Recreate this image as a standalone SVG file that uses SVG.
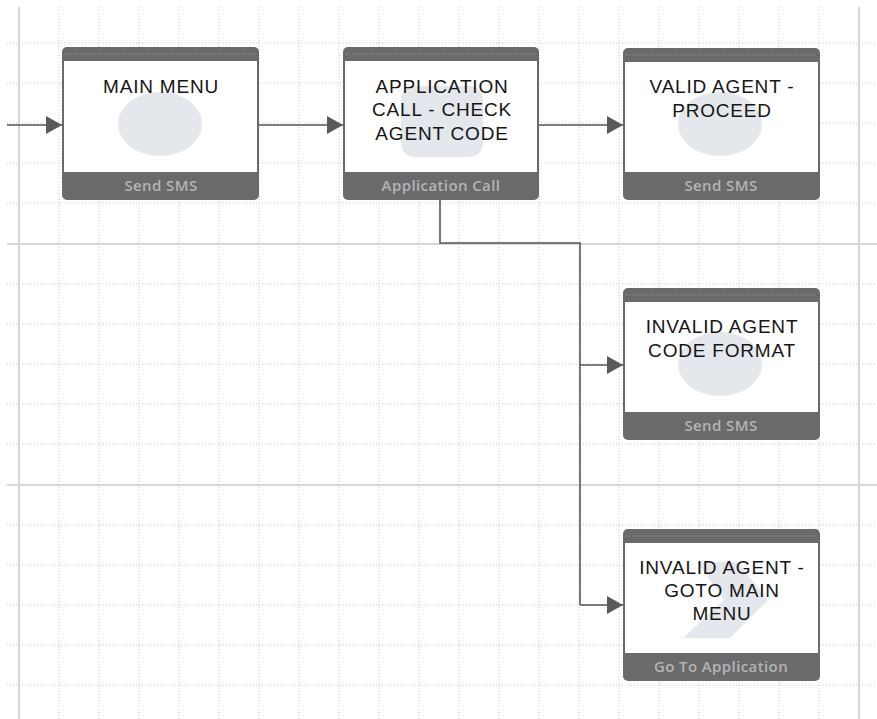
<svg xmlns="http://www.w3.org/2000/svg" width="877" height="719" viewBox="0 0 877 719">
  <style>
    .minor { stroke: #c8c8c8; stroke-width: 1; stroke-dasharray: 1 2; fill: none; }
    .major { stroke: #d6d6d6; stroke-width: 2; fill: none; }
    .frame { fill: #6a6a6a; }
    .body { fill: #ffffff; }
    .hdr-dots { stroke: #9a9a9a; stroke-width: 1; stroke-dasharray: 1 2; }
    .icon { fill: #e4e7ec; }
    .title { font-family: "Liberation Sans", Arial, sans-serif; font-size: 19px; letter-spacing: 0.8px; fill: #151515; text-anchor: middle; }
    .kind { font-family: "Open Sans", "DejaVu Sans", sans-serif; font-size: 15px; font-weight: 600; letter-spacing: 0.4px; fill: #b4b4b4; text-anchor: middle; }
    .wire { stroke: #555555; stroke-width: 1.6; fill: none; }
  </style>
  <defs>
    <marker id="arrow" markerUnits="userSpaceOnUse" markerWidth="16" markerHeight="18" refX="16" refY="9" orient="auto">
      <path d="M0,0 L16,9 L0,18 Z" fill="#5a5a5a"/>
    </marker>
  </defs>

  <!-- canvas grid -->
  <rect width="877" height="719" fill="#ffffff"/>
  <g id="grid">
    <path class="minor" d="M59,7V719 M99,7V719 M139,7V719 M179,7V719 M219,7V719 M259,7V719 M299,7V719 M339,7V719 M379,7V719 M419,7V719 M459,7V719 M499,7V719 M539,7V719 M579,7V719 M619,7V719 M659,7V719 M699,7V719 M739,7V719 M779,7V719 M819,7V719"/>
    <path class="minor" d="M7,43H877 M7,83H877 M7,123H877 M7,163H877 M7,203H877 M7,284H877 M7,324H877 M7,364H877 M7,404H877 M7,444H877 M7,525H877 M7,565H877 M7,605H877 M7,645H877 M7,685H877"/>
    <path class="major" d="M19,7V719 M859,7V719 M7,244H877 M7,485H877"/>
  </g>

  <!-- connectors -->
  <g id="connectors">
    <path class="wire" d="M7,125H62" marker-end="url(#arrow)"/>
    <path class="wire" d="M259,125H343" marker-end="url(#arrow)"/>
    <path class="wire" d="M539,125H623" marker-end="url(#arrow)"/>
    <path class="wire" d="M440,200V243H580V605" />
    <path class="wire" d="M580,365H623" marker-end="url(#arrow)"/>
    <path class="wire" d="M580,605H623" marker-end="url(#arrow)"/>
  </g>

  <!-- nodes -->
  <g id="main-menu">
    <rect class="frame" x="62" y="47" width="197" height="153" rx="5"/>
    <line class="hdr-dots" x1="65" y1="54" x2="256" y2="54"/>
    <rect class="body" x="64" y="61" width="193" height="111"/>
    <ellipse class="icon" cx="160" cy="124" rx="42" ry="32"/>
    <text class="title" x="161" y="93">MAIN MENU</text>
    <text class="kind" x="161" y="191">Send SMS</text>
  </g>

  <g id="check-agent-code">
    <rect class="frame" x="343" y="47" width="196" height="153" rx="5"/>
    <line class="hdr-dots" x1="346" y1="54" x2="536" y2="54"/>
    <rect class="body" x="345" y="61" width="192" height="111"/>
    <rect class="icon" x="401" y="86" width="82" height="71" rx="14"/>
    <text class="title" x="442" y="93">APPLICATION</text>
    <text class="title" x="442" y="116">CALL - CHECK</text>
    <text class="title" x="442" y="140">AGENT CODE</text>
    <text class="kind" x="441" y="191">Application Call</text>
  </g>

  <g id="valid-agent">
    <rect class="frame" x="623" y="48" width="197" height="152" rx="5"/>
    <line class="hdr-dots" x1="626" y1="55" x2="817" y2="55"/>
    <rect class="body" x="625" y="62" width="193" height="110"/>
    <ellipse class="icon" cx="720" cy="124" rx="42" ry="32"/>
    <text class="title" x="722" y="93">VALID AGENT -</text>
    <text class="title" x="722" y="117">PROCEED</text>
    <text class="kind" x="721" y="191">Send SMS</text>
  </g>

  <g id="invalid-format">
    <rect class="frame" x="623" y="288" width="197" height="152" rx="5"/>
    <line class="hdr-dots" x1="626" y1="295" x2="817" y2="295"/>
    <rect class="body" x="625" y="302" width="193" height="110"/>
    <ellipse class="icon" cx="720" cy="364" rx="42" ry="32"/>
    <text class="title" x="722" y="333">INVALID AGENT</text>
    <text class="title" x="722" y="357">CODE FORMAT</text>
    <text class="kind" x="721" y="431">Send SMS</text>
  </g>

  <g id="invalid-goto-main">
    <rect class="frame" x="623" y="529" width="197" height="152" rx="5"/>
    <line class="hdr-dots" x1="626" y1="536" x2="817" y2="536"/>
    <rect class="body" x="625" y="543" width="193" height="110"/>
    <path class="icon" d="M697,562 L737,562 L768,600 L730,638 L683,638 L724,600 Z"/>
    <text class="title" x="722" y="574">INVALID AGENT -</text>
    <text class="title" x="722" y="597">GOTO MAIN</text>
    <text class="title" x="722" y="620">MENU</text>
    <text class="kind" x="721" y="672">Go To Application</text>
  </g>
</svg>
